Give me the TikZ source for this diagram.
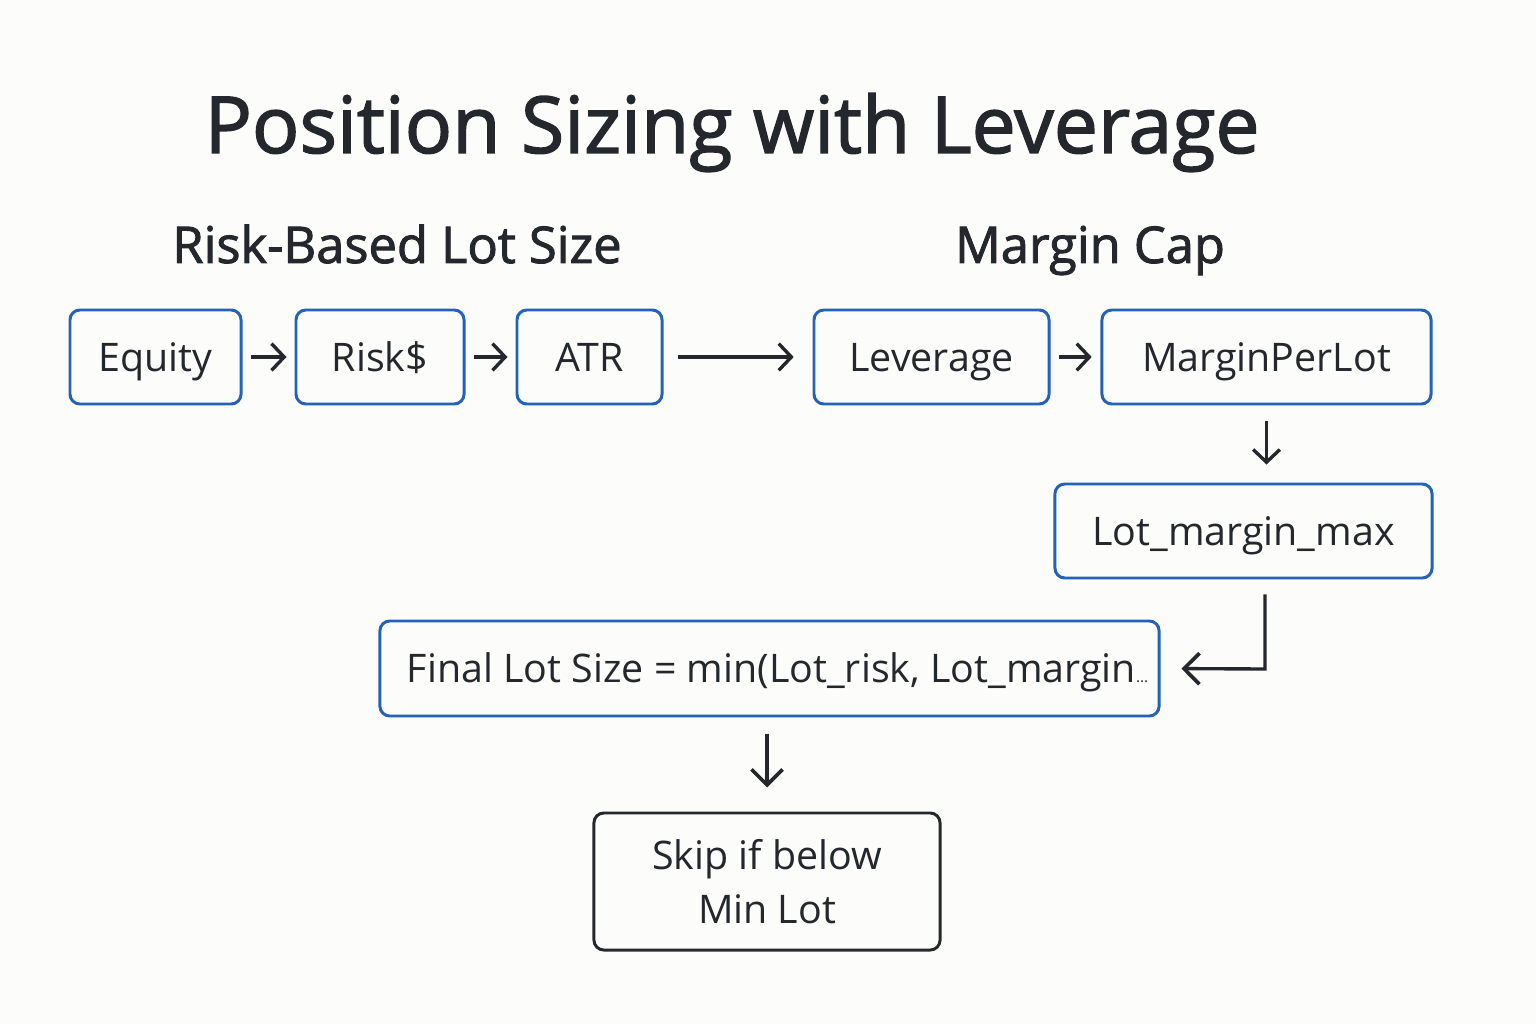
\documentclass[tikz,border=0pt]{standalone}
\usepackage{fontspec}
\setmainfont{Open Sans}
\newfontfamily\headfont{Open Sans}[FakeBold=1.8]
\usetikzlibrary{arrows.meta,positioning,calc}
\definecolor{boxblue}{HTML}{2362B8}
\definecolor{inkgray}{HTML}{24272B}
\definecolor{paper}{HTML}{FCFCFA}

\begin{document}
\begin{tikzpicture}[x=0.025cm,y=-0.025cm]
\tikzset{myFont/.style={font=\fontsize{28}{38}\selectfont,text=inkgray}}
\tikzset{myBox/.style={draw=boxblue,line width=2.1pt,rounded corners=7pt,myFont,minimum height=2.35cm,inner sep=0pt}}
\tikzset{oneLine/.style={text height=20pt,text depth=0pt}}
\tikzset{myHead/.style={font=\headfont\fontsize{36}{44}\selectfont,text=inkgray,anchor=base}}
\tikzset{myArrow/.style={line width=2.4pt,draw=inkgray,-{Straight Barb[length=9pt,width=19pt,line width=2.4pt]}}}
\tikzset{bigArrow/.style={myArrow,-{Straight Barb[length=11pt,width=22pt,line width=2.6pt]}}}

\fill[paper] (0,0) rectangle (1536,1024);

\node[myHead,font=\headfont\fontsize{56}{64}\selectfont] (title) at (732,153) {Position Sizing with Leverage};
\node[myHead] (riskhead) at (397,263) {Risk-Based Lot Size};
\node[myHead] (marginhead) at (1090,263) {Margin Cap};

\node[myBox,oneLine,minimum width=4.275cm] (equity) at (155.5,357) {Equity};
\node[myBox,oneLine,minimum width=4.2cm] (risk) at (380,357) {Risk\$};
\node[myBox,oneLine,minimum width=3.625cm] (atr) at (589.5,357) {ATR};
\node[myBox,oneLine,minimum width=5.875cm] (leverage) at (931.5,357) {Leverage};
\node[myBox,oneLine,minimum width=8.225cm] (margin) at (1266.5,357) {MarginPerLot};
\node[myBox,oneLine,minimum width=9.425cm] (lotmax) at (1243.5,531) {Lot\_margin\_max};
\node[myBox,oneLine,minimum width=19.475cm,minimum height=2.375cm] (final) at (769.5,668.5) {\hspace{0.4cm}Final Lot Size = min(Lot\_risk, Lot\_margin{\fontsize{11}{11}\selectfont\ldots}};
\node[myBox,draw=inkgray,align=center,minimum width=8.65cm,minimum height=3.425cm] (skip) at (767,881.5) {Skip if below\\Min Lot};

\path[draw,myArrow,shorten <=0.22cm,shorten >=0.2cm] (equity) edge (risk);
\path[draw,myArrow,shorten <=0.22cm,shorten >=0.2cm] (risk) edge (atr);
\path[draw,myArrow,shorten <=0.35cm,shorten >=0.47cm] (atr) edge (leverage);
\path[draw,myArrow,shorten <=0.22cm,shorten >=0.22cm] (leverage) edge (margin);
\draw[myArrow,shorten <=0.4cm,shorten >=0.45cm] (margin.south) -- (margin.south |- lotmax.north);

\coordinate (bend) at (1265,669);
\draw[bigArrow,shorten <=0.37cm,shorten >=0.52cm] (lotmax.south -| bend) -- (bend) -- (final.east);
\draw[bigArrow,shorten <=0.4cm,shorten >=0.6cm] (final.south -| skip) -- (skip.north);

\end{tikzpicture}
\end{document}
